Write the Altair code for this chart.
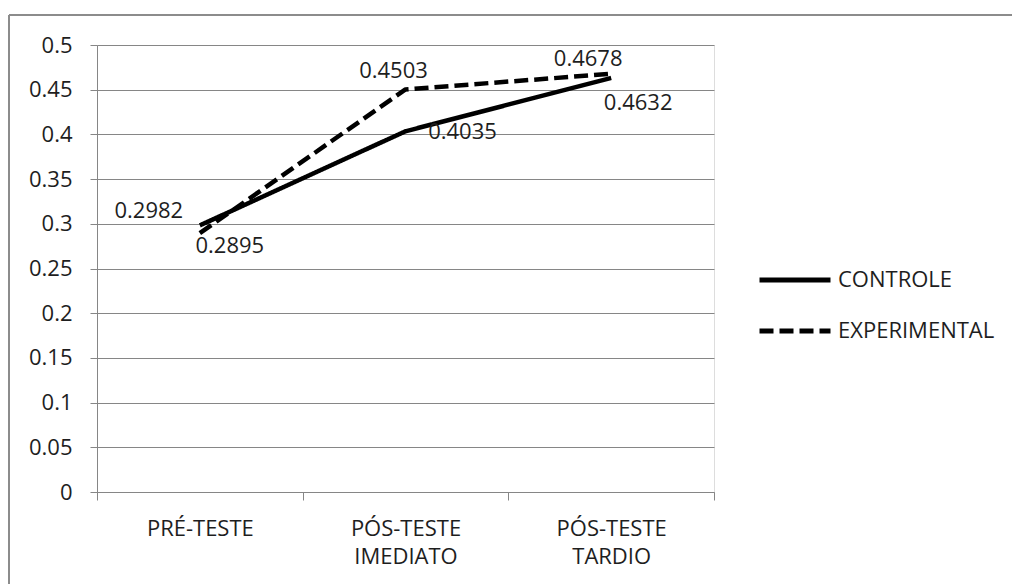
import altair as alt
import pandas as pd

categories = ["PRÉ-TESTE", "PÓS-TESTE IMEDIATO", "PÓS-TESTE TARDIO"]
series_names = ["CONTROLE", "EXPERIMENTAL"]
controle = [0.2982, 0.4035, 0.4632]
experimental = [0.2895, 0.4503, 0.4678]
y_ticks = [0, 0.05, 0.1, 0.15, 0.2, 0.25, 0.3, 0.35, 0.4, 0.45, 0.5]

rows = []
for c, v in zip(categories, controle):
    rows.append({"cat": c, "serie": "CONTROLE", "val": v})
for c, v in zip(categories, experimental):
    rows.append({"cat": c, "serie": "EXPERIMENTAL", "val": v})
df = pd.DataFrame(rows)

FONT = "Open Sans"
TXT = "#1e1e1e"
GRID = "#868686"

x_enc = alt.X("cat:N", sort=categories, title=None,
              scale=alt.Scale(type="band", domain=categories, paddingInner=0, paddingOuter=0),
              axis=alt.Axis(labelAngle=0, labelExpr="split(datum.label, ' ')", labelLineHeight=28,
                            tickBand="extent", tickSize=8, labelPadding=18, labelFontSize=22,
                            labelFont=FONT, labelColor=TXT, domainColor=GRID, tickColor=GRID,
                            grid=False, labelBaseline="top"))
y_enc = alt.Y("val:Q", title=None,
              scale=alt.Scale(domain=[0, 0.5], nice=False, zero=True),
              axis=alt.Axis(values=y_ticks, format="~g", tickSize=7, labelPadding=18,
                            labelFontSize=22, labelFont=FONT, labelColor=TXT,
                            domainColor=GRID, tickColor=GRID, gridColor=GRID, grid=True,
                            labelFlush=False))

lines = alt.Chart(df).mark_line(strokeWidth=4.5, color="black", strokeJoin="round").encode(
    x=x_enc,
    y=y_enc,
    strokeDash=alt.StrokeDash(
        "serie:N", title=None,
        scale=alt.Scale(domain=series_names, range=[[1, 0], [14, 6]]),
        legend=alt.Legend(orient="none", legendX=660, legendY=197, symbolType="stroke",
                          symbolSize=5041, symbolStrokeWidth=5, symbolStrokeColor="black",
                          labelFontSize=22, labelFont=FONT, labelColor=TXT, labelOffset=5,
                          rowPadding=2, padding=0),
    ),
)

# label offsets (style): (serie, category index, dx, dy)
label_offsets = [
    ("CONTROLE", 0, -51, -14),
    ("CONTROLE", 1, 57, 1),
    ("CONTROLE", 2, 27, 25),
    ("EXPERIMENTAL", 0, 30, 13),
    ("EXPERIMENTAL", 1, -12, -18),
    ("EXPERIMENTAL", 2, -23, -15),
]

label_layers = []
for s, ci, dx, dy in label_offsets:
    cat = categories[ci]
    lbl = alt.Chart(df).transform_filter(
        (alt.datum.serie == s) & (alt.datum.cat == cat)
    ).mark_text(dx=dx, dy=dy, fontSize=22, font=FONT, color=TXT, baseline="middle", align="center").encode(
        x=alt.X("cat:N", sort=categories),
        y=alt.Y("val:Q"),
        text=alt.Text("val:Q", format=".4f"),
    )
    label_layers.append(lbl)

frame_data = alt.Data(values=[{"k": 1}])
frame_top = alt.Chart(frame_data).mark_rule(color="#8c8c8c", strokeWidth=2).encode(
    x=alt.value(-88), x2=alt.value(1000), y=alt.value(-30))
frame_left = alt.Chart(frame_data).mark_rule(color="#8c8c8c", strokeWidth=2).encode(
    x=alt.value(-88), y=alt.value(-30), y2=alt.value(600))

chart = alt.layer(frame_top, frame_left, lines, *label_layers).properties(
    width=617, height=447,
    autosize=alt.AutoSizeParams(type="none"),
    padding={"left": 97, "top": 45, "right": 298, "bottom": 92},
).configure_view(stroke=None).configure(background="white")

chart.save("out.html", embed_options={"renderer": "svg", "actions": False})
